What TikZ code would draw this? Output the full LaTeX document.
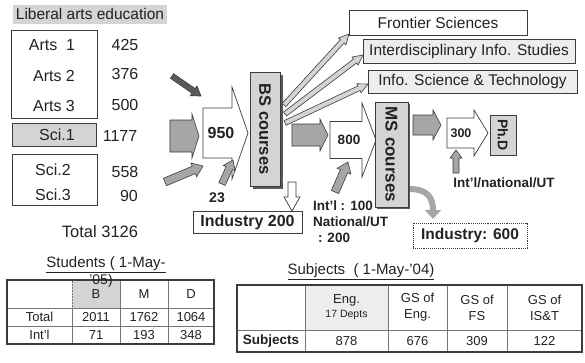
\documentclass[tikz,border=0pt]{standalone}
\usepackage{fontspec}
\setmainfont{Liberation Sans}
\usetikzlibrary{calc,arrows.meta,shadows}
\definecolor{lc}{HTML}{3C3C3C}
\definecolor{tc}{HTML}{222222}
\definecolor{lg}{HTML}{D4D4D4}
\definecolor{vlg}{HTML}{EDEDED}
\definecolor{mg}{HTML}{A6A6A6}
\definecolor{dg}{HTML}{5A5A5A}
% block arrow: [style]{from}{to}{shaft half width}{head half width}{head length}
\newcommand\blkarrow[6][]{%
  \coordinate (banck) at ($(#3)!#6!(#2)$);
  \filldraw[#1] ($(#2)!#4!90:(#3)$) -- ($(banck)!#4!90:(#3)$) -- ($(banck)!#5!90:(#3)$)
     -- (#3) -- ($(banck)!#5!-90:(#3)$) -- ($(banck)!#4!-90:(#3)$) -- ($(#2)!#4!-90:(#3)$) -- cycle;}
\begin{document}
\begin{tikzpicture}[x=1pt,y=-1pt,
  every node/.style={inner sep=0pt,outer sep=0pt,text=tc},
  txt/.style={font=\fontsize{16}{19}\selectfont},
  btxt/.style={font=\bfseries\fontsize{16}{19}\selectfont},
  frame/.style={draw=lc,line width=0.9pt},
  shadebox/.style={frame,fill=lg},
  garrow/.style={draw=lc,line width=0.6pt,fill=mg},
  warrow/.style={draw=lc,line width=0.7pt,fill=white},
  darrow/.style={draw=lc,line width=0.6pt,fill=dg},
  tarrow/.style={draw=lc,line width=0.6pt,fill=lg},
  cell/.style={draw=lc!70,line width=0.5pt,font=\fontsize{13}{16}\selectfont,align=center},
  outer/.style={draw=lc,line width=1.1pt},
]
\useasboundingbox (0,0) rectangle (585,362);

% ---------- left panel ----------
\node[fill=lg,minimum width=154pt,minimum height=19pt,font=\fontsize{15.5}{18}\selectfont] (title) at (90,14) {Liberal arts education};
\node[frame,minimum width=86pt,minimum height=88pt] (arts) at (54,74) {};
\node[txt] (a1) at (52,45) {Arts\ \ 1};
\node[txt] (a2) at (54,76) {Arts 2};
\node[txt] (a3) at (54,106) {Arts 3};
\node[txt] (n1) at (125,45) {425};
\node[txt] (n2) at (125,74) {376};
\node[txt] (n3) at (125,105) {500};
\node[shadebox,minimum width=84pt,minimum height=23pt] (sci1) at (54,134.5) {};
\node[txt] (s1) at (57,135) {Sci.1};
\node[txt] (n4) at (120,136) {1177};
\node[frame,minimum width=85pt,minimum height=51pt] (sci) at (54.5,180) {};
\node[txt] (s2) at (53,170) {Sci.2};
\node[txt] (s3) at (53,195) {Sci.3};
\node[txt] (n5) at (125,172) {558};
\node[txt] (n6) at (129,196) {90};
\node[txt,font=\fontsize{16.5}{19}\selectfont] (tot) at (100,232) {Total 3126};

% ---------- arrow end points ----------
\coordinate (dA) at (172,76);   \coordinate (dB) at (201,96);
\coordinate (gA) at (170,136);  \coordinate (gB) at (199,136);
\coordinate (iA) at (165,182);  \coordinate (iB) at (203,166);
\coordinate (wA) at (203,133);  \coordinate (wB) at (248,133);
\coordinate (tA) at (222,184);  \coordinate (tB) at (233,160);
\coordinate (vA) at (292,182);  \coordinate (vB) at (292,211);
\coordinate (fA1) at (284,105); \coordinate (fB1) at (349,34);
\coordinate (fA2) at (285,114); \coordinate (fB2) at (363,55);
\coordinate (fA3) at (285,123); \coordinate (fB3) at (368,84);
\coordinate (hA) at (292,135);  \coordinate (hB) at (328,135);
\coordinate (eA) at (330,140);  \coordinate (eB) at (376,140);
\coordinate (jA) at (335,192);  \coordinate (jB) at (348,162);
\coordinate (kA) at (413,125);  \coordinate (kB) at (441,125);
\coordinate (pA) at (447,133);  \coordinate (pB) at (488,133);
\coordinate (uA) at (456,173);  \coordinate (uB) at (456,150);
\coordinate (cA) at (409,189);  \coordinate (cB) at (433,219);

% ---------- block arrows ----------
\blkarrow[darrow]{dA}{dB}{2.8pt}{6pt}{9pt}
\blkarrow[garrow]{gA}{gB}{16pt}{22pt}{7pt}
\blkarrow[garrow]{iA}{iB}{4pt}{7.5pt}{10pt}
\blkarrow[warrow]{wA}{wB}{25pt}{46pt}{16pt}
\blkarrow[garrow]{tA}{tB}{3.5pt}{6.5pt}{9pt}
\blkarrow[warrow]{vA}{vB}{4pt}{8pt}{14pt}
\blkarrow[tarrow]{fA1}{fB1}{2.5pt}{5pt}{10pt}
\blkarrow[tarrow]{fA2}{fB2}{2.5pt}{5pt}{10pt}
\blkarrow[tarrow]{fA3}{fB3}{2.5pt}{5pt}{10pt}
\blkarrow[garrow]{hA}{hB}{11pt}{16pt}{8pt}
\blkarrow[warrow]{eA}{eB}{18.5pt}{37pt}{14pt}
\blkarrow[garrow]{jA}{jB}{4pt}{7.5pt}{10pt}
\blkarrow[garrow]{kA}{kB}{10pt}{15pt}{8pt}
\blkarrow[warrow]{pA}{pB}{15pt}{23pt}{14pt}
\blkarrow[garrow]{uA}{uB}{3pt}{6pt}{8pt}
\draw[line width=6pt,mg,-{Triangle[length=9pt,width=16pt]}] (cA) .. controls (428,189) and (433,198) .. (cB);

% ---------- centre flow ----------
\node[btxt] (n950) at (221,133) {950};
\node[btxt,font=\bfseries\fontsize{14}{16}\selectfont] (n23) at (217,198) {23};
\node[shadebox,minimum width=30pt,minimum height=114pt,
      drop shadow={shadow xshift=3pt,shadow yshift=-3pt,fill=dg,opacity=1}] (bs) at (265,129) {};
\node[btxt,rotate=-90,font=\bfseries\fontsize{16.5}{19}\selectfont] (bst) at (bs.center) {BS courses};
\node[frame,minimum width=109pt,minimum height=22pt,btxt] (ind2) at (247.5,222.5) {Industry 200};

\node[frame,fill=white,minimum width=178pt,minimum height=25pt,font=\fontsize{15.5}{18}\selectfont] (fs) at (438,22.5) {Frontier Sciences};
\node[frame,fill=vlg,minimum width=212pt,minimum height=24pt,font=\fontsize{15.5}{18}\selectfont] (ids) at (469,51) {Interdisciplinary Info. Studies};
\node[frame,fill=vlg,minimum width=209pt,minimum height=23pt,font=\fontsize{15.5}{18}\selectfont] (ist) at (472.5,81.5) {Info. Science \& Technology};

\node[btxt,font=\bfseries\fontsize{13.5}{16}\selectfont] (n800) at (349,140) {800};
\node[anchor=west,font=\bfseries\fontsize{13.5}{16}\selectfont] (l1) at (313,206) {Int'l : 100};
\node[anchor=west,font=\bfseries\fontsize{13.5}{16}\selectfont] (l2) at (313,222) {National/UT};
\node[anchor=west,font=\bfseries\fontsize{13.5}{16}\selectfont] (l3) at (318,238) {: 200};

\node[shadebox,minimum width=33pt,minimum height=105pt,
      drop shadow={shadow xshift=2pt,shadow yshift=-2pt,fill=dg,opacity=1}] (ms) at (391.5,154.5) {};
\node[rotate=-90,font=\bfseries\fontsize{17}{19}\selectfont] (mst) at (ms.center) {MS courses};

\node[font=\bfseries\fontsize{12.5}{15}\selectfont] (n300) at (461,133) {300};
\node[shadebox,minimum width=26pt,minimum height=40pt] (phd) at (503,135) {};
\node[rotate=-90,font=\bfseries\fontsize{14}{16}\selectfont] (phdt) at (phd.center) {Ph.D};
\node[font=\bfseries\fontsize{13.5}{16}\selectfont] (l4) at (504,183) {Int'l/national/UT};
\node[draw=lc,densely dotted,line width=0.9pt,minimum width=114pt,minimum height=25pt,btxt,font=\bfseries\fontsize{15.5}{18}\selectfont] (ind6) at (470,235.5) {Industry: 600};

% ---------- Students table ----------
\node[font=\fontsize{15}{18}\selectfont] (stt) at (106,265) {\underline{Students ( 1-May-}};
\node[cell,minimum width=65pt,minimum height=28pt] (s00) at (39.5,294) {};
\node[cell,fill=lg,densely dotted,minimum width=48pt,minimum height=28pt] (s01) at (96,294) {B};
\node[cell,minimum width=48pt,minimum height=28pt] (s02) at (144,294) {M};
\node[cell,minimum width=46pt,minimum height=28pt] (s03) at (191,294) {D};
\node[cell,minimum width=65pt,minimum height=18pt] (s10) at (39.5,317) {Total};
\node[cell,minimum width=48pt,minimum height=18pt] (s11) at (96,317) {2011};
\node[cell,minimum width=48pt,minimum height=18pt] (s12) at (144,317) {1762};
\node[cell,minimum width=46pt,minimum height=18pt] (s13) at (191,317) {1064};
\node[cell,minimum width=65pt,minimum height=18pt] (s20) at (39.5,335) {Int'l};
\node[cell,minimum width=48pt,minimum height=18pt] (s21) at (96,335) {71};
\node[cell,minimum width=48pt,minimum height=18pt] (s22) at (144,335) {193};
\node[cell,minimum width=46pt,minimum height=18pt] (s23) at (191,335) {348};
\draw[outer] (s00.north west) rectangle (s23.south east);
\node[font=\fontsize{14}{16}\selectfont] (stt2) at (101,281) {'05)};

% ---------- Subjects table ----------
\node[font=\fontsize{15}{18}\selectfont] (sbt) at (361,272) {\underline{Subjects\ \ ( 1-May-'04)}};
\node[cell,minimum width=68pt,minimum height=45pt] (t00) at (271,307.5) {};
\node[cell,fill=vlg,minimum width=83pt,minimum height=45pt] (t01) at (346.5,307.5) {Eng.\\[-2pt]{\fontsize{10.5}{12}\selectfont 17 Depts}};
\node[cell,minimum width=59pt,minimum height=45pt] (t02) at (417.5,307.5) {GS of\\Eng.};
\node[cell,minimum width=60pt,minimum height=45pt] (t03) at (477,307.5) {GS of\\FS};
\node[cell,minimum width=75pt,minimum height=45pt] (t04) at (544.5,307.5) {GS of\\IS\&T};
\node[cell,minimum width=68pt,minimum height=22pt,font=\bfseries\fontsize{13.5}{16}\selectfont] (t10) at (271,341) {Subjects};
\node[cell,minimum width=83pt,minimum height=22pt] (t11) at (346.5,341) {878};
\node[cell,minimum width=59pt,minimum height=22pt] (t12) at (417.5,341) {676};
\node[cell,minimum width=60pt,minimum height=22pt] (t13) at (477,341) {309};
\node[cell,minimum width=75pt,minimum height=22pt] (t14) at (544.5,341) {122};
\draw[outer] (t00.north west) rectangle (t14.south east);
\end{tikzpicture}
\end{document}
